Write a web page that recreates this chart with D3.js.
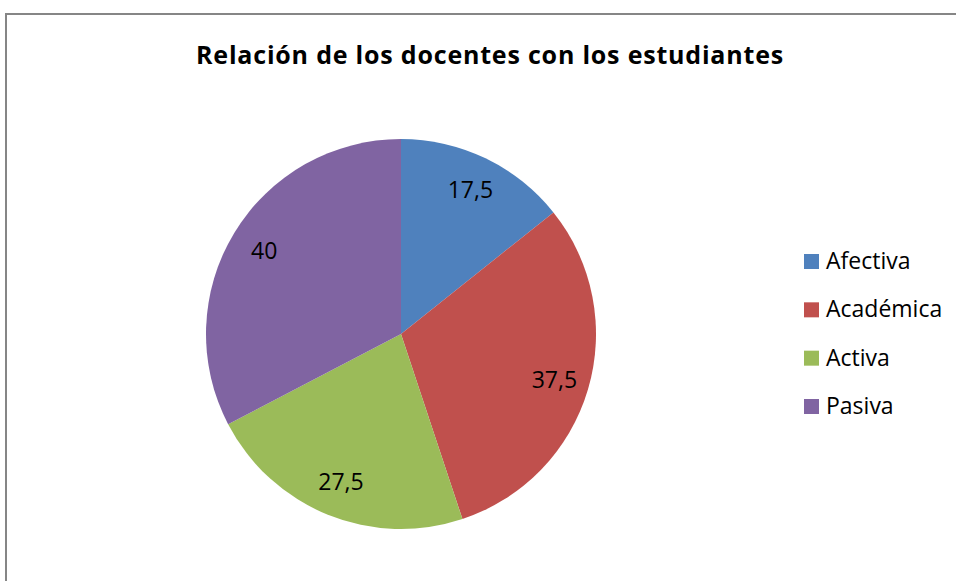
<!DOCTYPE html>
<html><head><meta charset="utf-8">
<script src="https://cdn.jsdelivr.net/npm/d3@7"></script>
<style>body{margin:0;background:#fff;} svg{display:block;}</style>
</head><body>
<svg id="chart" width="956" height="581"></svg>
<script>
const categories = ["Afectiva", "Académica", "Activa", "Pasiva"];
const values = [17.5, 37.5, 27.5, 40];
const valueLabels = ["17,5", "37,5", "27,5", "40"];
const colors = ["#4F81BD", "#C0504D", "#9BBB59", "#8064A2"];
const title = "Relación de los docentes con los estudiantes";

const svg = d3.select("#chart");
const font = "'Open Sans', sans-serif";

svg.append("rect").attr("x", 6).attr("y", 14).attr("width", 1000).attr("height", 700)
  .attr("fill", "#fff").attr("stroke", "#868686").attr("stroke-width", 2);

svg.append("text").attr("x", 490).attr("y", 64).attr("text-anchor", "middle")
  .attr("font-family", font).attr("font-weight", "bold").attr("font-size", 25)
  .attr("letter-spacing", 0.8)
  .attr("fill", "#000").text(title);

const cx = 401, cy = 334, R = 195;
const color = d3.scaleOrdinal().domain(categories).range(colors);
const pie = d3.pie().sort(null).value(d => d.v);
const data = categories.map((c, i) => ({c, v: values[i], label: valueLabels[i]}));
const arcs = pie(data);
const arc = d3.arc().innerRadius(0).outerRadius(R);
const labelArc = d3.arc().innerRadius(160).outerRadius(160);

const g = svg.append("g").attr("transform", `translate(${cx},${cy})`);
g.selectAll("path").data(arcs).join("path")
  .attr("d", arc).attr("fill", d => color(d.data.c));
g.selectAll("text").data(arcs).join("text")
  .attr("transform", d => `translate(${labelArc.centroid(d)})`)
  .attr("text-anchor", "middle").attr("dy", "0.35em")
  .attr("font-family", font).attr("font-size", 23).attr("fill", "#000")
  .text(d => d.data.label);

const legend = svg.append("g");
const ly = d3.scalePoint().domain(categories).range([261.5, 406.5]);
const items = legend.selectAll("g").data(categories).join("g")
  .attr("transform", d => `translate(804,${ly(d)})`);
items.append("rect").attr("x", 0).attr("y", -7.5).attr("width", 15).attr("height", 15)
  .attr("fill", d => color(d));
items.append("text").attr("x", 22).attr("y", 7.5)
  .attr("font-family", font).attr("font-size", 23).attr("fill", "#000").text(d => d);
</script>
</body></html>
